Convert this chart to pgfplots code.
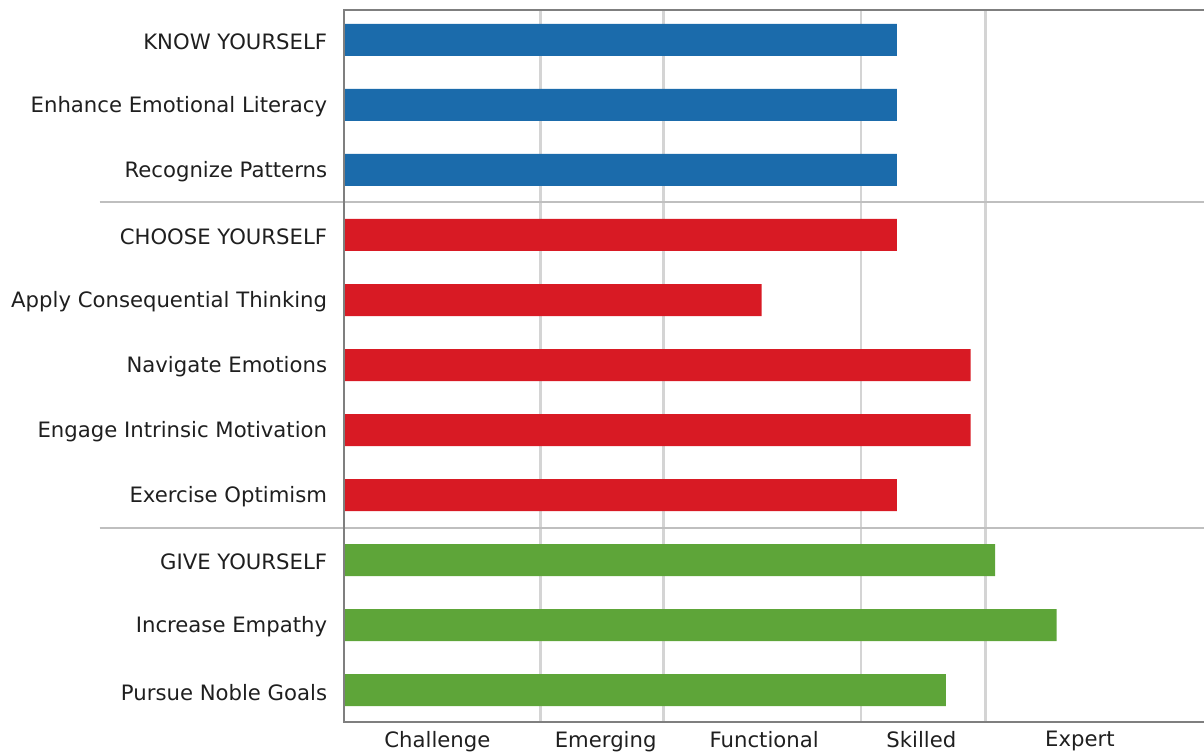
\documentclass[border=0pt]{standalone}
\usepackage{pgfplots}
\pgfplotsset{compat=1.18}
\usepackage{fontspec}
\setmainfont{DejaVu Sans}
\definecolor{cblue}{HTML}{1B6BAB}
\definecolor{cred}{HTML}{D81A24}
\definecolor{cgreen}{HTML}{5EA539}
\definecolor{gridc}{HTML}{D4D4D4}
\definecolor{axc}{HTML}{7F7F7F}
\begin{document}
\begin{tikzpicture}
\clip (0,0) rectangle (602pt,-375.5pt);
\begin{axis}[
  at={(172pt,-5pt)}, anchor=north west,
  width=430pt, height=356pt, scale only axis,
  xbar, bar shift=0pt, bar width=16pt,
  xmin=65, xmax=135,
  ymin=-0.46, ymax=10.49, y dir=reverse,
  clip mode=individual,
  axis line style={draw=none},
  ytick={0,...,10},
  yticklabels={KNOW YOURSELF, Enhance Emotional Literacy, Recognize Patterns, CHOOSE YOURSELF, Apply Consequential Thinking, Navigate Emotions, Engage Intrinsic Motivation, Exercise Optimism, GIVE YOURSELF, Increase Empathy, Pursue Noble Goals},
  xtick={72.6,86.3,99.2,112,124.9},
  xticklabels={Challenge, Emerging, Functional, Skilled, Expert},
  major tick style={draw=none},
  tick label style={font=\fontsize{10.6}{12}\selectfont, text=black!88},
  yticklabel style={anchor=east, inner sep=0pt, xshift=-4pt, yshift=-1pt},
  xticklabel style={anchor=north, inner sep=0pt, yshift=-4.5pt},
  extra x ticks={81,91,107.1,117.2},
  extra x tick labels={},
  extra x tick style={grid=major, major grid style={draw=gridc, line width=1.2pt}, tick style={draw=none}},
]
\addplot[draw=none, fill=cblue] coordinates {(110,0) (110,1) (110,2)};
\addplot[draw=none, fill=cred] coordinates {(110,3) (99,4) (116,5) (116,6) (110,7)};
\addplot[draw=none, fill=cgreen] coordinates {(118,8) (123,9) (114,10)};
\draw[gridc!90!black, line width=1pt] (axis cs:45.1,2.5) -- (axis cs:135,2.5);
\draw[gridc!90!black, line width=1pt] (axis cs:45.1,7.5) -- (axis cs:135,7.5);
\draw[axc, line width=1pt] (rel axis cs:1,0) -- (rel axis cs:0,0) -- (rel axis cs:0,1) -- (rel axis cs:1,1);
\end{axis}
\end{tikzpicture}
\end{document}
